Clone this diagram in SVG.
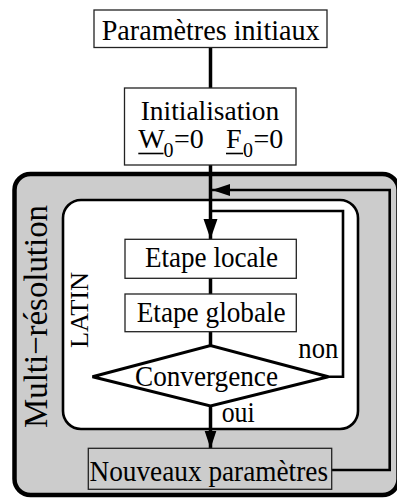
<svg xmlns="http://www.w3.org/2000/svg" width="397" height="499" viewBox="0 0 397 499">
<style>
text{font-family:"Liberation Serif","Times New Roman",serif;fill:#000}
.t{font-size:30px}
.s{font-size:28px}
.box{fill:#fff;stroke:#222;stroke-width:1.3}
.conn{fill:none;stroke:#000;stroke-width:3.5}
.fb{fill:none;stroke:#000;stroke-width:2.6}
</style>
<defs>
<marker id="ah" markerUnits="userSpaceOnUse" markerWidth="22" markerHeight="16" refX="20" refY="7" orient="auto">
<path d="M0,0 L20,7 L0,14 z" fill="#000"/>
</marker>
<marker id="ah2" markerUnits="userSpaceOnUse" markerWidth="20" markerHeight="14" refX="18" refY="6" orient="auto">
<path d="M0,0 L18,6 L0,12 z" fill="#000"/>
</marker>
</defs>
<g id="multi-resolution">
<rect x="14.5" y="174" width="384" height="321" rx="16" fill="#cccccc" stroke="#000" stroke-width="4.5"/>
<text style="font-size:34px" transform="translate(46.5,316.5) rotate(-90)" text-anchor="middle" textLength="223" lengthAdjust="spacingAndGlyphs">Multi−résolution</text>
</g>
<g id="latin">
<rect x="63" y="200" width="295" height="229" rx="18" fill="#fff" stroke="#000" stroke-width="2.6"/>
<text style="font-size:26px" transform="translate(88,310) rotate(-90)" text-anchor="middle" textLength="76" lengthAdjust="spacingAndGlyphs">LATIN</text>
</g>
<g id="connectors">
<line class="conn" x1="210.5" y1="47.5" x2="210.5" y2="88"/>
<line class="conn" x1="210.5" y1="165" x2="210.5" y2="239" marker-end="url(#ah)"/>
<line class="conn" x1="210.5" y1="278" x2="210.5" y2="294"/>
<line class="conn" x1="210.5" y1="331.5" x2="210.5" y2="346"/>
<line class="conn" x1="210.5" y1="405" x2="210.5" y2="448.5" marker-end="url(#ah2)"/>
<polyline class="fb" points="328,376.7 343,376.7 343,211 210.5,211"/>
<polyline class="fb" points="331.5,470 389.7,470 389.7,190 212,190" marker-end="url(#ah2)"/>
</g>
<g id="parametres-initiaux">
<rect class="box" x="94" y="10" width="233" height="37.5"/>
<text class="t" x="101.7" y="40" textLength="218" lengthAdjust="spacingAndGlyphs">Paramètres initiaux</text>
</g>
<g id="initialisation">
<rect class="box" x="124.5" y="88" width="171.5" height="77"/>
<text class="s" x="140.7" y="120" textLength="138.6" lengthAdjust="spacingAndGlyphs">Initialisation</text>
<text class="s" y="148.3"><tspan x="138.3">W</tspan><tspan x="163.5" y="156.5" style="font-size:20px">0</tspan><tspan x="174" y="148.3">=0</tspan><tspan x="226">F</tspan><tspan x="243" y="156.5" style="font-size:20px">0</tspan><tspan x="253.5" y="148.3">=0</tspan></text>
<line x1="138.3" y1="153.5" x2="163.5" y2="153.5" stroke="#000" stroke-width="1.6"/>
<line x1="226" y1="153.5" x2="243" y2="153.5" stroke="#000" stroke-width="1.6"/>
</g>
<g id="etape-locale">
<rect class="box" x="125" y="239.3" width="171.3" height="39"/>
<text class="t" x="145" y="267" textLength="133" lengthAdjust="spacingAndGlyphs">Etape locale</text>
</g>
<g id="etape-globale">
<rect class="box" x="125" y="294" width="171.3" height="37.7"/>
<text class="t" x="136.7" y="322" textLength="149" lengthAdjust="spacingAndGlyphs">Etape globale</text>
</g>
<g id="convergence">
<polygon points="92.5,376.7 210.5,345.5 328.3,376.7 210.5,406" fill="#fff" stroke="#000" stroke-width="3"/>
<text class="t" x="135" y="386" textLength="143" lengthAdjust="spacingAndGlyphs">Convergence</text>
</g>
<g id="labels">
<text class="t" x="298.3" y="357.7" textLength="40" lengthAdjust="spacingAndGlyphs">non</text>
<text class="t" x="221.7" y="422" textLength="33" lengthAdjust="spacingAndGlyphs">oui</text>
</g>
<g id="nouveaux-parametres">
<rect x="88.3" y="448.3" width="243.4" height="41" fill="#cccccc" stroke="#222" stroke-width="1.3"/>
<text class="t" x="89.5" y="480.5" textLength="238.5" lengthAdjust="spacingAndGlyphs">Nouveaux paramètres</text>
</g>
</svg>
